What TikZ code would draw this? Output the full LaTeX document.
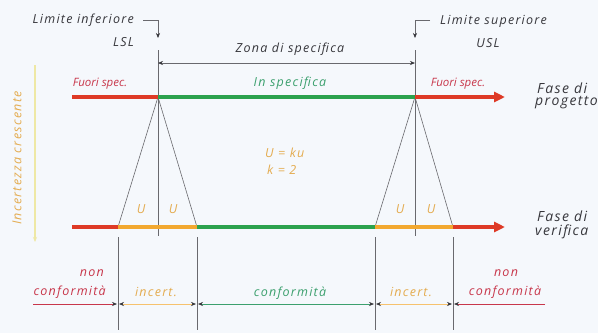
\documentclass[tikz,border=0pt]{standalone}
\usepackage{fontspec}
\setmainfont{Open Sans}
\newfontfamily\wfont[LetterSpace=10]{Open Sans}
\usetikzlibrary{arrows.meta}
\definecolor{bg}{RGB}{245,248,252}
\definecolor{cred}{RGB}{222,58,38}
\definecolor{cgreen}{RGB}{44,162,78}
\definecolor{corange}{RGB}{242,168,48}
\definecolor{tred}{RGB}{200,55,75}
\definecolor{tgreen}{RGB}{60,160,110}
\definecolor{torange}{RGB}{228,172,80}
\definecolor{tdark}{RGB}{55,55,60}
\definecolor{cgray}{RGB}{105,105,110}
\definecolor{cyell}{RGB}{238,232,165}
\tikzset{
  txt/.style={inner sep=0pt, font=\wfont\itshape\fontsize{12.5}{15}\selectfont},
  spec/.style={inner sep=0pt, font=\itshape\fontsize{11.5}{14}\selectfont},
  big/.style={inner sep=0pt, align=left, font=\wfont\itshape\fontsize{14}{15}\selectfont, text=tdark},
  bar/.style={line width=4pt},
  thin/.style={draw=cgray, line width=0.6pt},
  tipR/.style={-{Triangle[length=11pt,width=10pt]}},
  dim/.style={line width=0.6pt},
  dtip/.style={{Stealth[length=5pt,width=4pt,color=tdark]}-{Stealth[length=5pt,width=4pt,color=tdark]}},
  stip/.style={-{Stealth[length=5pt,width=4pt,color=tdark]}},
}
\begin{document}
\begin{tikzpicture}[x=1pt,y=-1pt]
\fill[bg] (0,0) rectangle (598,333);
\useasboundingbox (0,0) rectangle (598,333);
% key points
\coordinate (L) at (158,97);
\coordinate (R) at (415,97);
\coordinate (T0) at (72,97);
\coordinate (T1) at (505,97);
\coordinate (B0) at (72,227);
\coordinate (B1) at (505,227);
\coordinate (LB1) at (118,227);
\coordinate (LB2) at (197,227);
\coordinate (RB1) at (375,227);
\coordinate (RB2) at (453,227);
\coordinate (Ltop) at (158,50);
\coordinate (Rtop) at (415,50);
\coordinate (Lbot) at (158,236);
\coordinate (Rbot) at (415,236);
% vertical limit lines and triangles
\draw[thin] (Ltop) -- (Lbot);
\draw[thin] (Rtop) -- (Rbot);
\draw[thin] (LB1) -- (L) -- (LB2);
\draw[thin] (RB1) -- (R) -- (RB2);
% bottom boundary lines
\foreach \n/\x in {v1/118,v2/197,v3/375,v4/453}{
  \coordinate (\n a) at (\x,237);
  \coordinate (\n b) at (\x,330);
  \draw[thin] (\n a) -- (\n b);
}
% top bar
\draw[bar,cred] (T0) -- (L);
\draw[bar,cgreen] (L) -- (R);
\draw[bar,cred,tipR] (R) -- (T1);
% bottom bar
\draw[bar,cred] (B0) -- (LB1);
\draw[bar,corange] (LB1) -- (LB2);
\draw[bar,cgreen] (LB2) -- (RB1);
\draw[bar,corange] (RB1) -- (RB2);
\draw[bar,cred,tipR] (RB2) -- (B1);
% limit labels with hooks
\node[txt,text=tdark,anchor=east] (linf) at (134,20) {Limite inferiore};
\node[txt,text=tdark,anchor=east] (lsl) at (134,42) {LSL};
\node[txt,text=tdark,anchor=west] (lsup) at (440,21) {Limite superiore};
\node[txt,text=tdark] (usl) at (488,43) {USL};
\coordinate (hL0) at (143,20);
\coordinate (hL1) at (158,20);
\coordinate (hL2) at (158,38);
\coordinate (hR0) at (430,20);
\coordinate (hR1) at (415,20);
\coordinate (hR2) at (415,38);
\draw[thin,stip] (hL0) -- (hL1) -- (hL2);
\draw[thin,stip] (hR0) -- (hR1) -- (hR2);
% zona di specifica
\coordinate (zL) at (158,63);
\coordinate (zR) at (415,63);
\draw[thin,dtip] (zL) -- (zR);
\node[txt,text=tdark] (zona) at (290,49) {Zona di specifica};
% spec labels
\node[spec,text=tred] (fs1) at (100,84) {Fuori spec.};
\node[txt,text=tgreen] (ins) at (290,83) {In specifica};
\node[spec,text=tred] (fs2) at (458,84) {Fuori spec.};
\node[big,anchor=west] (fp1) at (537,88) {Fase di};
\node[big,anchor=west] (fp2) at (535,103) {progetto};
\node[big,anchor=west] (fv1) at (537,216) {Fase di};
\node[big,anchor=west] (fv2) at (535,232) {verifica};
% U labels
\node[txt,text=torange] (u1) at (141,209) {U};
\node[txt,text=torange] (u2) at (173,209) {U};
\node[txt,text=torange] (u3) at (400,209) {U};
\node[txt,text=torange] (u4) at (431,209) {U};
\node[txt,text=torange,anchor=west] (uk1) at (265,153) {U = ku};
\node[txt,text=torange,anchor=west] (uk2) at (267,170) {k = 2};
% incertezza crescente
\coordinate (ia) at (35,65);
\coordinate (ib) at (35,242);
\draw[cyell,line width=1.2pt,-{Stealth[length=5pt,width=4pt]}] (ia) -- (ib);
\node[txt,text=torange,rotate=90] (inc) at (17,158) {Incertezza crescente};
% bottom zone arrows
\coordinate (a0) at (33,304);
\coordinate (a1) at (117,304);
\coordinate (a2) at (119,304);
\coordinate (a3) at (196,304);
\coordinate (a4) at (198,304);
\coordinate (a5) at (374,304);
\coordinate (a6) at (376,304);
\coordinate (a7) at (452,304);
\coordinate (a8) at (454,304);
\coordinate (a9) at (545,304);
\draw[dim,tred,stip] (a0) -- (a1);
\draw[dim,corange!70,dtip] (a2) -- (a3);
\draw[dim,tgreen,dtip] (a4) -- (a5);
\draw[dim,corange!70,dtip] (a6) -- (a7);
\draw[dim,tred,stip] (a9) -- (a8);
\node[txt,text=tred,anchor=east] (nc1a) at (104,273) {non};
\node[txt,text=tred,anchor=east] (nc1b) at (106,292) {conformità};
\node[txt,text=torange] (ic1) at (156,292) {incert.};
\node[txt,text=tgreen] (cf) at (290,293) {conformità};
\node[txt,text=torange] (ic2) at (411,292) {incert.};
\node[txt,text=tred] (nc2a) at (506,273) {non};
\node[txt,text=tred] (nc2b) at (505,292) {conformità};
\end{tikzpicture}
\end{document}
